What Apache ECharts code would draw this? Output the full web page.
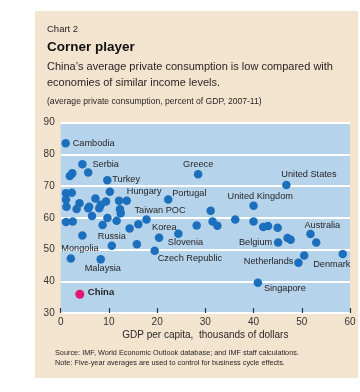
<!DOCTYPE html>
<html><head><meta charset="utf-8">
<script src="https://cdn.jsdelivr.net/npm/echarts@6/dist/echarts.min.js"></script>
<style>html,body{margin:0;padding:0;background:#fff}#c{width:360px;height:392px}</style>
</head><body><div id="c"></div>
<script>
// GDP per capita (thousands of dollars), unlabeled economies
const gdpOther = [5.7,2.4,1.9,10.2,2.3,1.1,1.1,1.2,3.9,3.3,7.2,5.9,5.7,8.3,9.4,8.0,12.1,12.3,12.45,6.5,9.7,8.7,11.6,16.1,14.3,1.1,2.5,31.1,36.2,31.5,32.5,28.2,40.0,42.0,43.0,45.0,53.0,47.05,47.7,50.5,4.5,15.8];
// Private consumption (percent of GDP), unlabeled economies
const consOther = [74.3,74.0,73.2,68.2,67.9,67.7,65.8,63.5,64.6,62.8,66.1,63.5,63.0,64.1,65.1,63.0,65.4,62.7,61.4,60.6,59.9,57.7,59.1,58.0,56.6,58.7,58.8,62.2,59.5,58.8,57.5,57.6,58.8,57.1,57.4,56.9,52.2,53.6,53.1,48.1,54.4,51.7];
// Labeled economies
const labelNames = ["Cambodia","Serbia","Turkey","Hungary","Portugal","Taiwan POC","Greece","United States","United Kingdom","Australia","Belgium","Netherlands","Denmark","Singapore","Russia","Korea","Slovenia","Czech Republic","Mongolia","Malaysia"];
const labelGdp = [1.04,4.5,9.67,13.7,22.3,17.8,28.5,46.8,40.0,51.8,45.1,49.3,58.5,40.9,10.6,20.4,24.4,19.5,2.1,8.3];
const labelCons = [83.5,76.9,71.8,65.4,65.8,59.5,73.7,70.3,63.8,54.9,52.2,45.8,48.6,39.5,51.2,53.7,55.0,49.6,47.2,46.9];
const chinaGdp = [3.96];
const chinaCons = [35.9];
const xTicks = [0,10,20,30,40,50,60];
const yTicks = [30,40,50,60,70,80,90];

// label placement (align, offset) — styling only
const labelPlace = {
  "Cambodia":["left",[7,0]],
  "Serbia":["left",[10,0]],
  "Turkey":["left",[5,-1]],
  "Hungary":["left",[0,-9]],
  "Portugal":["left",[4,-6]],
  "Taiwan POC":["left",[-12,-9]],
  "Greece":["left",[-15,-10]],
  "United States":["left",[-5,-11]],
  "United Kingdom":["left",[-26,-9]],
  "Australia":["left",[-6,-9]],
  "Belgium":["right",[-6,0]],
  "Netherlands":["right",[-5,-1]],
  "Denmark":["center",[-11,10]],
  "Singapore":["left",[6,6]],
  "Russia":["center",[0,-9]],
  "Korea":["left",[-7,-10]],
  "Slovenia":["left",[-10.5,8.5]],
  "Czech Republic":["left",[3,7.5]],
  "Mongolia":["left",[-9.5,-10]],
  "Malaysia":["left",[-16,9.5]]
};
const FONT = "'Liberation Sans Narrow','Arial Narrow','Liberation Sans',sans-serif";
const TXT = '#231f20';

const otherData = gdpOther.map((g,i)=>[g,consOther[i]]);
const labeledData = labelNames.map((n,i)=>{
  const p = labelPlace[n];
  return {name:n, value:[labelGdp[i],labelCons[i]],
    label:{show:true, formatter:n, position:'inside', align:p[0], verticalAlign:'middle', offset:p[1],
      color:TXT, fontSize:9.2, fontFamily:FONT}};
});
const chinaData = chinaGdp.map((g,i)=>({name:'China', value:[g,chinaCons[i]],
  label:{show:true, formatter:'China', position:'inside', align:'left', verticalAlign:'middle', offset:[8,-2],
    color:TXT, fontSize:9.5, fontWeight:'bold', fontFamily:FONT}}));

const chart = echarts.init(document.getElementById('c'), null, {renderer:'canvas'});
chart.setOption({
  backgroundColor:'#ffffff',
  animation:false,
  graphic:[{type:'rect', z:-10, shape:{x:35,y:11,width:323,height:367}, style:{fill:'#f3e4cf'}}],
  title:[
    {text:'Chart 2', left:47, top:24, padding:0, textStyle:{fontSize:9.5, fontWeight:'normal', color:TXT, fontFamily:FONT}},
    {text:'Corner player', left:47, top:40, padding:0, textStyle:{fontSize:13.5, fontWeight:'bold', color:'#111', fontFamily:"'Liberation Sans',sans-serif"}},
    {text:"China’s average private consumption is low compared with\neconomies of similar income levels.", left:47, top:59, padding:0,
      textStyle:{fontSize:11, fontWeight:'normal', color:TXT, lineHeight:16, fontFamily:FONT}},
    {text:'(average private consumption, percent of GDP, 2007-11)', left:47, top:97, padding:0, textStyle:{fontSize:8.6, fontWeight:'normal', color:TXT, fontFamily:FONT}},
    {text:'Source: IMF, World Economic Outlook database; and IMF staff calculations.\nNote: Five-year averages are used to control for business cycle effects.', left:55, top:348, padding:0,
      textStyle:{fontSize:7.3, fontWeight:'normal', color:TXT, lineHeight:10, fontFamily:FONT}}
  ],
  grid:{left:60.7, right:10, top:122.6, bottom:79, show:true, backgroundColor:'#b5d3ea', borderWidth:0},
  xAxis:{type:'value', min:xTicks[0], max:xTicks[xTicks.length-1], interval:10,
    name:'GDP per capita,  thousands of dollars', nameLocation:'middle', nameGap:17,
    nameTextStyle:{fontSize:10, color:TXT, fontFamily:FONT, verticalAlign:'top'},
    axisLine:{show:false}, axisTick:{show:true, inside:true, length:5, lineStyle:{color:'#333', width:1.2}},
    splitLine:{show:false},
    axisLabel:{fontSize:10, color:'#333', margin:4, fontFamily:FONT}},
  yAxis:{type:'value', min:yTicks[0], max:yTicks[yTicks.length-1], interval:10,
    axisLine:{show:false}, axisTick:{show:false},
    splitLine:{show:true, lineStyle:{color:'#ffffff', width:2}},
    axisLabel:{fontSize:10, color:'#333', margin:6, fontFamily:FONT}},
  series:[
    {type:'scatter', data:otherData, symbolSize:8.5, itemStyle:{color:'#1c6fbd', opacity:1}, z:3},
    {type:'scatter', data:labeledData, symbolSize:8.5, itemStyle:{color:'#1c6fbd', opacity:1}, z:4},
    {type:'scatter', data:chinaData, symbolSize:9, itemStyle:{color:'#e3176f', opacity:1}, z:5}
  ]
});
</script></body></html>
